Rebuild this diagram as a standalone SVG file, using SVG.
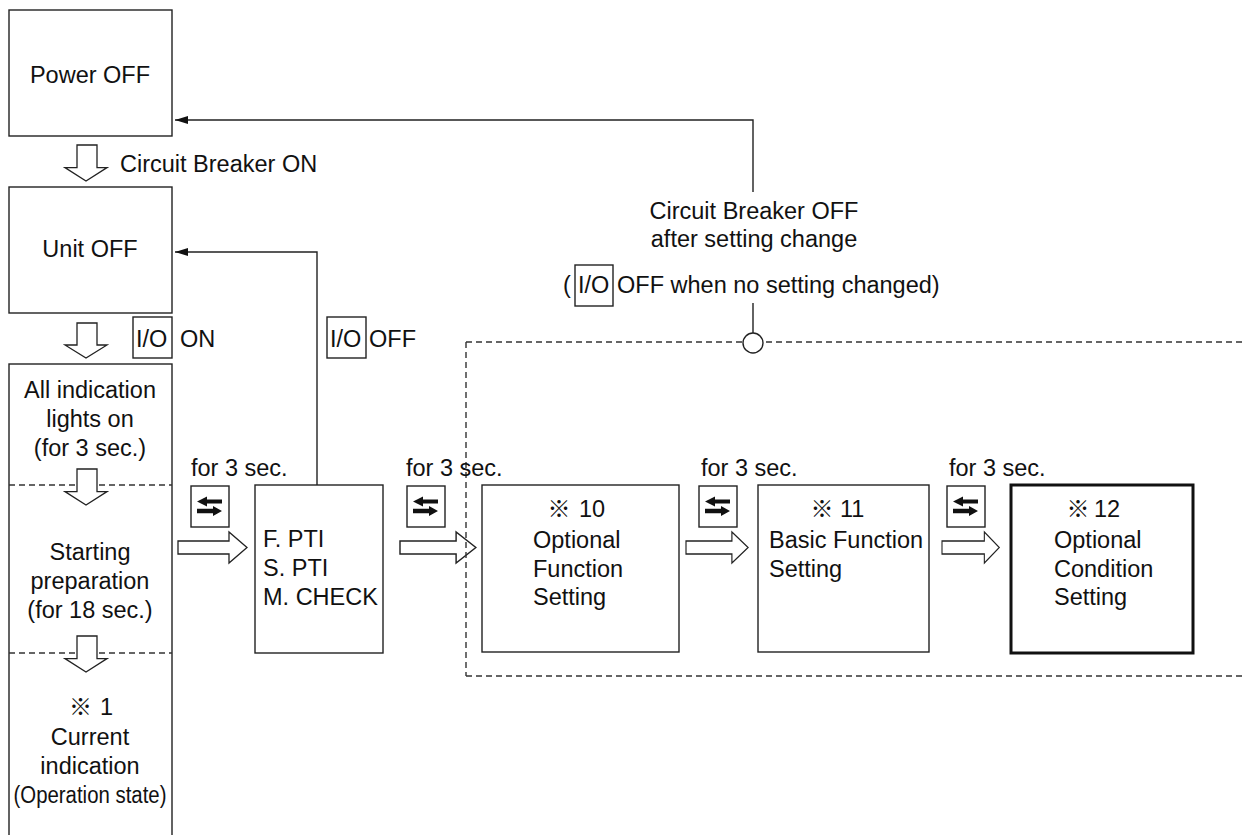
<svg xmlns="http://www.w3.org/2000/svg" xmlns:xlink="http://www.w3.org/1999/xlink" width="1244" height="835" viewBox="0 0 1244 835">
<style>
text{font-family:"Liberation Sans","Noto Sans CJK JP",sans-serif;font-size:23.5px;fill:#111}
.c{text-anchor:middle}
.box{fill:#fff;stroke:#222;stroke-width:1.4}
.thick{fill:#fff;stroke:#111;stroke-width:3}
.ln{fill:none;stroke:#222;stroke-width:1.4}
.dash{fill:none;stroke:#333;stroke-width:1.4;stroke-dasharray:6 4}
.hol{fill:#fff;stroke:#222;stroke-width:1.3;stroke-linejoin:miter}
.ref{font-family:"Noto Sans CJK JP",sans-serif;font-size:23px}
</style>
<defs>
<marker id="ah" markerUnits="userSpaceOnUse" markerWidth="14" markerHeight="8" refX="13" refY="4" orient="auto">
<path d="M0,0 L13,4 L0,8 Z" fill="#111"/>
</marker>
<g id="sw">
<rect x="0" y="0" width="38" height="41" class="box"/>
<path d="M6,15.5 L16,10.5 L16,13.5 L31,13.5 L31,17.5 L16,17.5 L16,20.5 Z" fill="#111"/>
<path d="M31,25 L22,20 L22,22.8 L6,22.8 L6,27.2 L22,27.2 L22,30 Z" fill="#111"/>
</g>
<path id="rarr" d="M0,9 H51 V0 L69,15.5 L51,31 V22 H0 Z"/>
<path id="darr" d="M12,0 H32 V22 H42 L21,35 L0,22 H12 Z"/>
</defs>

<g id="power-off">
<rect x="9" y="10" width="163" height="126" class="box"/>
<text x="90" y="83" class="c">Power OFF</text>
</g>

<g id="unit-off">
<rect x="9" y="187" width="163" height="126" class="box"/>
<text x="90" y="257" class="c">Unit OFF</text>
</g>

<g id="start-sequence">
<rect x="9" y="364" width="163" height="480" class="box"/>
<line x1="9" y1="485" x2="172" y2="485" class="dash"/>
<line x1="9" y1="653" x2="172" y2="653" class="dash"/>
<text x="90" y="398" class="c">All indication</text>
<text x="90" y="427" class="c">lights on</text>
<text x="90" y="456" class="c">(for 3 sec.)</text>
<text x="90" y="560" class="c">Starting</text>
<text x="90" y="589" class="c">preparation</text>
<text x="90" y="618" class="c">(for 18 sec.)</text>
<text x="80.5" y="715" class="ref c">※</text>
<text x="100" y="715">1</text>
<text x="90" y="745" class="c">Current</text>
<text x="90" y="774" class="c">indication</text>
<text x="90" y="803" class="c" textLength="153" lengthAdjust="spacingAndGlyphs">(Operation state)</text>
</g>

<g id="pti">
<rect x="255" y="485" width="128" height="168" class="box"/>
<text x="263" y="547">F. PTI</text>
<text x="263" y="576">S. PTI</text>
<text x="263" y="605">M. CHECK</text>
</g>

<g id="opt-function">
<rect x="482" y="485" width="197" height="167" class="box"/>
<text x="559" y="517" class="ref c">※</text>
<text x="579" y="517">10</text>
<text x="533" y="548">Optional</text>
<text x="533" y="577">Function</text>
<text x="533" y="605">Setting</text>
</g>

<g id="basic-function">
<rect x="758" y="485" width="171" height="167" class="box"/>
<text x="822" y="517" class="ref c">※</text>
<text x="840" y="517">11</text>
<text x="769" y="548">Basic Function</text>
<text x="769" y="577">Setting</text>
</g>

<g id="opt-condition">
<rect x="1011" y="485" width="182" height="168" class="thick"/>
<text x="1078" y="517" class="ref c">※</text>
<text x="1094" y="517">12</text>
<text x="1054" y="548">Optional</text>
<text x="1054" y="577">Condition</text>
<text x="1054" y="605">Setting</text>
</g>

<g id="connectors">
<use xlink:href="#darr" href="#darr" class="hol" transform="translate(65,145) scale(1,1.03)"/>
<use xlink:href="#darr" href="#darr" class="hol" transform="translate(65,323)"/>
<use xlink:href="#darr" href="#darr" class="hol" transform="translate(65,469) scale(1,1.03)"/>
<use xlink:href="#darr" href="#darr" class="hol" transform="translate(65,636) scale(1,1.03)"/>
<use xlink:href="#rarr" href="#rarr" class="hol" transform="translate(178,532)"/>
<use xlink:href="#rarr" href="#rarr" class="hol" transform="translate(400,532) scale(1.1,1)"/>
<use xlink:href="#rarr" href="#rarr" class="hol" transform="translate(686,532) scale(0.9,1)"/>
<use xlink:href="#rarr" href="#rarr" class="hol" transform="translate(942,532) scale(0.83,1)"/>
<use xlink:href="#sw" href="#sw" x="191" y="486"/>
<use xlink:href="#sw" href="#sw" x="407" y="486"/>
<use xlink:href="#sw" href="#sw" x="699" y="486"/>
<use xlink:href="#sw" href="#sw" x="947" y="486"/>
<path d="M317,485 V252 H175" class="ln" marker-end="url(#ah)"/>
<path d="M753,192 V120 H175" class="ln" marker-end="url(#ah)"/>
<line x1="753" y1="303" x2="753" y2="333" class="ln"/>
<line x1="466" y1="342" x2="1244" y2="342" class="dash"/>
<line x1="466" y1="676" x2="1244" y2="676" class="dash"/>
<line x1="466" y1="342" x2="466" y2="676" class="dash"/>
<circle cx="753" cy="343" r="10" fill="#fff" stroke="#222" stroke-width="1.4"/>
</g>

<g id="labels">
<text x="120" y="172">Circuit Breaker ON</text>
<rect x="133" y="317" width="39" height="41" class="box"/>
<text x="136" y="347">I/O</text>
<text x="180" y="347">ON</text>
<rect x="327" y="317" width="39" height="41" class="box"/>
<text x="330" y="347">I/O</text>
<text x="369" y="347">OFF</text>
<text x="191" y="476">for 3 sec.</text>
<text x="406" y="476">for 3 sec.</text>
<text x="701" y="476">for 3 sec.</text>
<text x="949" y="476">for 3 sec.</text>
<text x="754" y="219" class="c">Circuit Breaker OFF</text>
<text x="754" y="247" class="c">after setting change</text>
<text x="563" y="293">(</text>
<rect x="575" y="265" width="38" height="41" class="box"/>
<text x="578" y="293">I/O</text>
<text x="617" y="293">OFF when no setting changed)</text>
</g>
</svg>
